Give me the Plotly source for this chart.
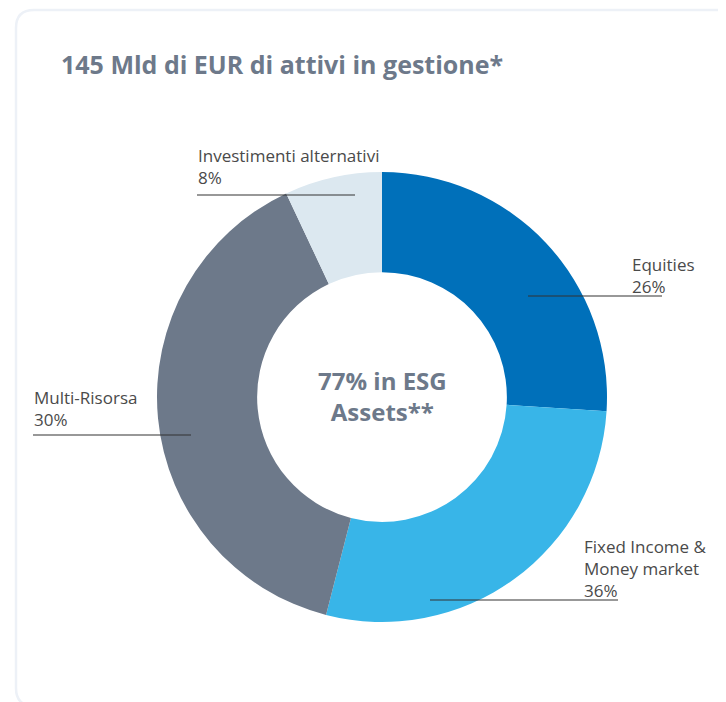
import plotly.graph_objects as go

W, H = 726, 702

categories = ["Equities", "Fixed Income &<br>Money market", "Multi-Risorsa", "Investimenti alternativi"]
# slice sizes as drawn in the reference
slice_values = [26, 28, 39, 7]
# percentages printed in the labels
label_percent = [26, 36, 30, 8]
colors = ["#0070BA", "#38B5E8", "#6D798A", "#DCE8F0"]

title_text = "145 Mld di EUR di attivi in gestione*"
center_text = "77% in ESG<br>Assets**"

FONT = "Open Sans"
LABEL_COLOR = "#4A4A4A"
TITLE_COLOR = "#6D798A"

OFF = 8  # page body margin


def px(x):
    return (x - OFF) / W


def py(y):
    return 1 - (y - OFF) / H


cx, cy, r = 382, 397, 225

fig = go.Figure(go.Pie(
    labels=categories,
    values=slice_values,
    marker=dict(colors=colors, line=dict(width=0)),
    hole=0.555,
    sort=False,
    direction="clockwise",
    rotation=0,
    textinfo="none",
    hoverinfo="skip",
    showlegend=False,
    domain=dict(x=[px(cx - r), px(cx + r)], y=[py(cy + r), py(cy - r)]),
))

# label placements (pixel positions): text x, text top y, line x0, line x1, line y
label_layout = [
    (630, 251, 528, 662, 296),
    (582, 533, 430, 618, 600),
    (32, 384, 33, 191, 435),
    (196, 142, 197, 355, 195),
]

shapes = []
annotations = []
for cat, val, (tx, ty, lx0, lx1, ly) in zip(categories, label_percent, label_layout):
    annotations.append(dict(
        x=px(tx), y=py(ty), xref="paper", yref="paper",
        xanchor="left", yanchor="top", align="left",
        text=f"{cat}<br>{val}%", showarrow=False,
        font=dict(family=FONT, size=17, color=LABEL_COLOR),
    ))
    shapes.append(dict(
        type="line", xref="paper", yref="paper",
        x0=px(lx0), x1=px(lx1), y0=py(ly), y1=py(ly),
        line=dict(color="#333333", width=1.2),
    ))

# card outline (rounded)
L, T, R, B, rad = 16, 10, 760, 706, 18
path = (f"M {px(L)},{py(T + rad)} Q {px(L)},{py(T)} {px(L + rad)},{py(T)} "
        f"L {px(R)},{py(T)} L {px(R)},{py(B)} L {px(L + rad)},{py(B)} "
        f"Q {px(L)},{py(B)} {px(L)},{py(B - rad)} Z")
shapes.insert(0, dict(type="path", xref="paper", yref="paper", path=path,
                      line=dict(color="#EDF1F7", width=2.5), fillcolor="rgba(0,0,0,0)",
                      layer="below"))

annotations.append(dict(
    x=px(59), y=py(64), xref="paper", yref="paper",
    xanchor="left", yanchor="middle",
    text=f"<b>{title_text}</b>", showarrow=False,
    font=dict(family=FONT, size=25, color=TITLE_COLOR),
))
annotations.append(dict(
    x=px(cx), y=py(396), xref="paper", yref="paper",
    xanchor="center", yanchor="middle", align="center",
    text=f"<b>{center_text}</b>", showarrow=False,
    font=dict(family=FONT, size=24, color=TITLE_COLOR),
))

fig.update_layout(
    width=W, height=H,
    margin=dict(l=0, r=0, t=0, b=0),
    paper_bgcolor="white",
    plot_bgcolor="white",
    shapes=shapes,
    annotations=annotations,
)

fig.write_html("out.html", config={"displayModeBar": False})
